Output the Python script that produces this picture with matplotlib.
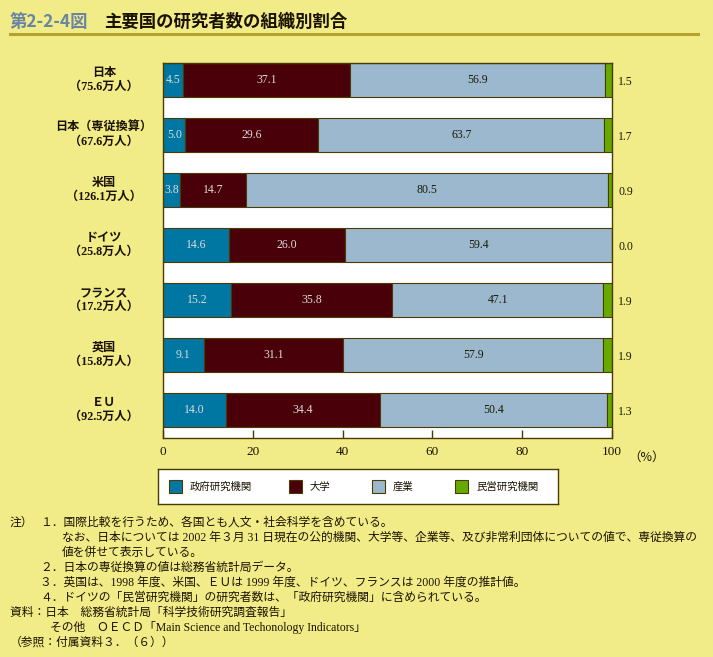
import matplotlib
matplotlib.use('Agg')
import matplotlib.pyplot as plt
import matplotlib.transforms as mtransforms
from matplotlib.patches import Rectangle

# data
countries = ['日本\n（75.6万人）', '日本（専従換算）\n（67.6万人）', '米国\n（126.1万人）',
             'ドイツ\n（25.8万人）', 'フランス\n（17.2万人）', '英国\n（15.8万人）', 'ＥＵ\n（92.5万人）']
gov = [4.5, 5.0, 3.8, 14.6, 15.2, 9.1, 14.0]
univ = [37.1, 29.6, 14.7, 26.0, 35.8, 31.1, 34.4]
industry = [56.9, 63.7, 80.5, 59.4, 47.1, 57.9, 50.4]
private = [1.5, 1.7, 0.9, 0.0, 1.9, 1.9, 1.3]
series_names = ['政府研究機関', '大学', '産業', '民営研究機関']
x_ticks = [0, 20, 40, 60, 80, 100]

colors = ['#0077a2', '#4a0008', '#9cb8cf', '#66aa00']
label_colors = ['#dcdcdc', '#dcdcdc', '#1a1a00', None]
bg = '#f2ec88'
edge = '#4a3c00'
SERIF = ['Liberation Serif', 'Noto Sans CJK JP']
CJK = ['Noto Sans CJK JP', 'DejaVu Sans']

W, H = 713, 657
fig = plt.figure(figsize=(W / 100, H / 100), dpi=100, facecolor=bg)

def fx(x):
    return x / W

def fy(y):
    return 1 - y / H

# title
fig.text(fx(10), fy(22), '第2-2-4図', family=CJK, fontsize=12.5, color='#6a84a4',
         fontweight='bold', va='center')
fig.text(fx(104), fy(22), '主要国の研究者数の組織別割合', family=CJK, fontsize=12.5,
         color='#1a1200', fontweight='bold', va='center')
fig.add_artist(plt.Line2D([fx(10), fx(698)], [fy(34), fy(34)], color='#b4a22a', lw=2.2))

# main axes
ax = fig.add_axes([fx(163), fy(438), (612 - 163) / W, (438 - 63) / H])
ax.set_facecolor('white')
n = len(countries)
ypos = list(range(n))
lefts = [0.0] * n
series = [gov, univ, industry, private]
for vals, c in zip(series, colors):
    ax.barh(ypos, vals, left=lefts, height=0.62, color=c, edgecolor=edge, linewidth=0.8)
    lefts = [l + v for l, v in zip(lefts, vals)]

# value labels
for i in range(n):
    start = 0.0
    for k, vals in enumerate(series):
        v = vals[i]
        if k < 3:
            ax.text(start + v / 2, i, f'{v:.1f}', ha='center', va='center',
                    color=label_colors[k], fontsize=8.5, family=SERIF)
        else:
            ax.text(101.4, i + 0.04, f'{v:.1f}', ha='left', va='center', color='#1a1a00',
                    fontsize=8.5, family=SERIF, clip_on=False)
        start += v

ax.set_xlim(0, 100)
ax.set_ylim(6 + 28 / 55, -17 / 55)
ax.set_yticks([])
ax.set_xticks(x_ticks)
ax.set_xticklabels([str(t) for t in x_ticks], family=SERIF, fontsize=9.5, color='#1a1200')
ax.tick_params(axis='x', direction='in', length=6, width=1, color=edge, pad=6)
for s in ax.spines.values():
    s.set_color(edge)
    s.set_linewidth(1)
ax.text(103.6, 6.51 + 0.23, '（%）', family=CJK, fontsize=9, color='#1a1200',
        va='top', ha='left', clip_on=False)

# category labels
trans = mtransforms.blended_transform_factory(fig.transFigure, ax.transData)
for i, lab in enumerate(countries):
    ax.text(fx(104), i, lab, transform=trans, ha='center', va='center', family=SERIF,
            fontsize=8.7, color='#1a1200', linespacing=1.25, clip_on=False,
            fontweight='bold')

# legend box
lax = fig.add_axes([fx(158), fy(504), (558 - 158) / W, (504 - 469) / H])
lax.set_facecolor('white')
lax.set_xlim(158, 558)
lax.set_ylim(504, 469)
lax.set_xticks([])
lax.set_yticks([])
for s in lax.spines.values():
    s.set_color(edge)
    s.set_linewidth(1)
for px, name, c in zip([169, 289, 372, 455], series_names, colors):
    lax.add_patch(Rectangle((px, 480), 13, 13, facecolor=c, edgecolor=edge, lw=0.8))
    lax.text(px + 21, 487, name, family=CJK, fontsize=7.5, color='#1a1200', va='center')

# notes
notes = [
    (10, '注）'),
    (40, '１．国際比較を行うため、各国とも人文・社会科学を含めている。'),
    (62, 'なお、日本については 2002 年３月 31 日現在の公的機関、大学等、企業等、及び非常利団体についての値で、専従換算の'),
    (62, '値を併せて表示している。'),
    (40, '２．日本の専従換算の値は総務省統計局データ。'),
    (40, '３．英国は、1998 年度、米国、ＥＵは 1999 年度、ドイツ、フランスは 2000 年度の推計値。'),
    (40, '４．ドイツの「民営研究機関」の研究者数は、「政府研究機関」に含められている。'),
    (10, '資料：日本　総務省統計局「科学技術研究調査報告」'),
    (50, 'その他　ＯＥＣＤ「Main Science and Techonology Indicators」'),
    (10, '（参照：付属資料３．（６））'),
]
line = 0
for x, t in notes:
    if t == '注）':
        fig.text(fx(x), fy(523), t, family=SERIF, fontsize=8.5, color='#1a1200', va='center')
        continue
    fig.text(fx(x), fy(523 + 15 * line), t, family=SERIF, fontsize=8.5, color='#1a1200',
             va='center')
    line += 1

fig.savefig('out.png', dpi=100, facecolor=bg)
